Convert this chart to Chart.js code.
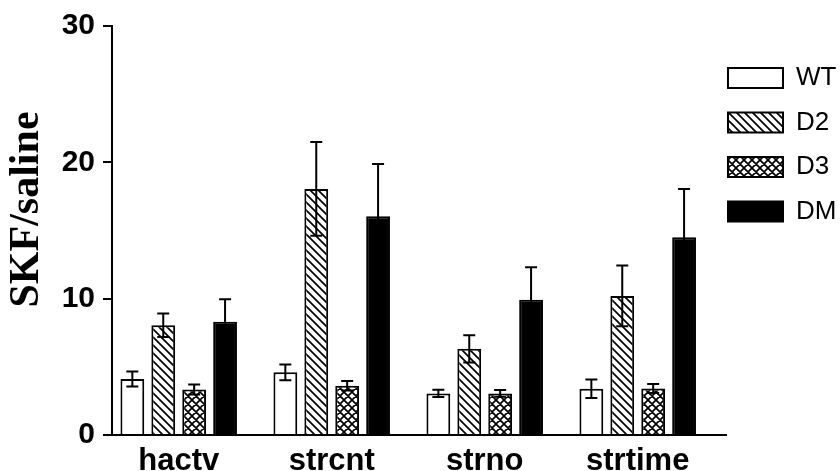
<!DOCTYPE html>
<html><head><meta charset="utf-8">
<script src="https://cdn.jsdelivr.net/npm/chart.js@4.4.1/dist/chart.umd.min.js"></script>
<style>html,body{margin:0;padding:0;background:#fff;overflow:hidden}canvas{display:block}</style>
</head><body>
<canvas id="c" width="840" height="471"></canvas>
<script>
const categories = ['hactv', 'strcnt', 'strno', 'strtime'];
const seriesNames = ['WT', 'D2', 'D3', 'DM'];
const wtValues = [4.1, 4.6, 3.05, 3.4];
const wtErrors = [0.55, 0.58, 0.27, 0.68];
const d2Values = [8.05, 18.05, 6.32, 10.2];
const d2Errors = [0.87, 3.44, 1.0, 2.23];
const d3Values = [3.34, 3.61, 3.05, 3.41];
const d3Errors = [0.37, 0.35, 0.25, 0.33];
const dmValues = [8.3, 16.04, 9.92, 14.5];
const dmErrors = [1.66, 3.83, 2.39, 3.55];
const yTicks = [0, 10, 20, 30];
const yTitle = '    SKF/saline';

const SANS = "'Liberation Sans', Arial, sans-serif";
const SERIF = "'Liberation Serif', 'Times New Roman', serif";

function makePattern(kind) {
  const s = 8;
  const c = document.createElement('canvas');
  c.width = s; c.height = s;
  const g = c.getContext('2d');
  g.fillStyle = '#fff'; g.fillRect(0, 0, s, s);
  g.strokeStyle = '#000'; g.lineWidth = 1.7;
  g.beginPath();
  for (let k = -1; k <= 1; k++) {
    g.moveTo(-1, -1 + k * s); g.lineTo(s + 1, s + 1 + k * s);
    if (kind === 'cross') { g.moveTo(-1, s + 1 + k * s); g.lineTo(s + 1, -1 + k * s); }
  }
  g.stroke();
  return g.createPattern(c, 'repeat');
}

const fills = ['#ffffff', makePattern('diag'), makePattern('cross'), '#000000'];
const values = [wtValues, d2Values, d3Values, dmValues];
const errors = [wtErrors, d2Errors, d3Errors, dmErrors];

const datasets = seriesNames.map((name, s) => ({
  label: name,
  data: values[s].map((v, i) => ({ x: i, y: v })),
  errors: errors[s],
  backgroundColor: fills[s],
  borderColor: '#000',
  borderWidth: 2,
  categoryPercentage: 0.808,
  barPercentage: 0.77
}));

const errorBars = {
  id: 'errorBars',
  afterDatasetsDraw(chart) {
    const ctx = chart.ctx;
    const yScale = chart.scales.y;
    ctx.save();
    ctx.strokeStyle = '#000';
    ctx.lineWidth = 2;
    chart.data.datasets.forEach((ds, di) => {
      const meta = chart.getDatasetMeta(di);
      meta.data.forEach((bar, i) => {
        const v = ds.data[i].y, e = ds.errors[i];
        const yt = yScale.getPixelForValue(v + e);
        const yb = yScale.getPixelForValue(v - e);
        const x = bar.x, hw = 6;
        ctx.beginPath();
        ctx.moveTo(x, yt); ctx.lineTo(x, yb);
        ctx.moveTo(x - hw, yt); ctx.lineTo(x + hw, yt);
        ctx.moveTo(x - hw, yb); ctx.lineTo(x + hw, yb);
        ctx.stroke();
      });
    });
    ctx.restore();
  }
};

new Chart(document.getElementById('c'), {
  type: 'bar',
  data: { datasets },
  options: {
    responsive: false,
    animation: false,
    devicePixelRatio: 1,
    layout: { padding: { top: 25, left: 0, right: 0, bottom: 0 } },
    plugins: {
      tooltip: { enabled: false },
      legend: {
        position: 'right',
        align: 'start',
        maxWidth: 114,
        title: { display: true, text: '', font: { size: 1, lineHeight: 1 }, padding: { top: 37, bottom: 0 } },
        labels: {
          boxWidth: 55,
          boxHeight: 20,
          padding: 2,
          color: '#000',
          font: { family: SANS, size: 26, lineHeight: '42.5px' },
          generateLabels(chart) {
            return chart.data.datasets.map((ds, i) => ({
              text: [ds.label],
              fillStyle: ds.backgroundColor,
              strokeStyle: '#000',
              lineWidth: 2,
              hidden: false,
              datasetIndex: i,
              fontColor: '#000'
            }));
          }
        }
      }
    },
    scales: {
      x: {
        type: 'linear',
        offset: false,
        min: -0.436,
        max: 3.577,
        grid: { display: false, offset: false },
        border: { display: true, color: '#000', width: 2 },
        afterBuildTicks(axis) { axis.ticks = categories.map((c, i) => ({ value: i })); },
        afterFit(scale) { scale.height = 36; },
        ticks: {
          autoSkip: false,
          maxRotation: 0,
          padding: 0,
          color: '#000',
          font: { family: SANS, size: 31, weight: 'bold' },
          callback: (v, i) => categories[i]
        }
      },
      y: {
        min: 0,
        max: 30,
        afterBuildTicks(axis) { axis.ticks = yTicks.map(v => ({ value: v })); },
        afterFit(scale) { scale.width = 112; },
        grid: { drawOnChartArea: false, drawTicks: true, tickLength: 9, color: '#000', lineWidth: 2 },
        border: { display: true, color: '#000', width: 2 },
        ticks: {
          padding: 8,
          color: '#000',
          font: { family: SANS, size: 30, weight: 'bold' }
        },
        title: {
          display: true,
          text: yTitle,
          color: '#000',
          padding: { top: 2, bottom: 0 },
          font: { family: SERIF, size: 42, weight: 'bold', lineHeight: 1.2 }
        }
      }
    }
  },
  plugins: [errorBars]
});
</script>
</body></html>
